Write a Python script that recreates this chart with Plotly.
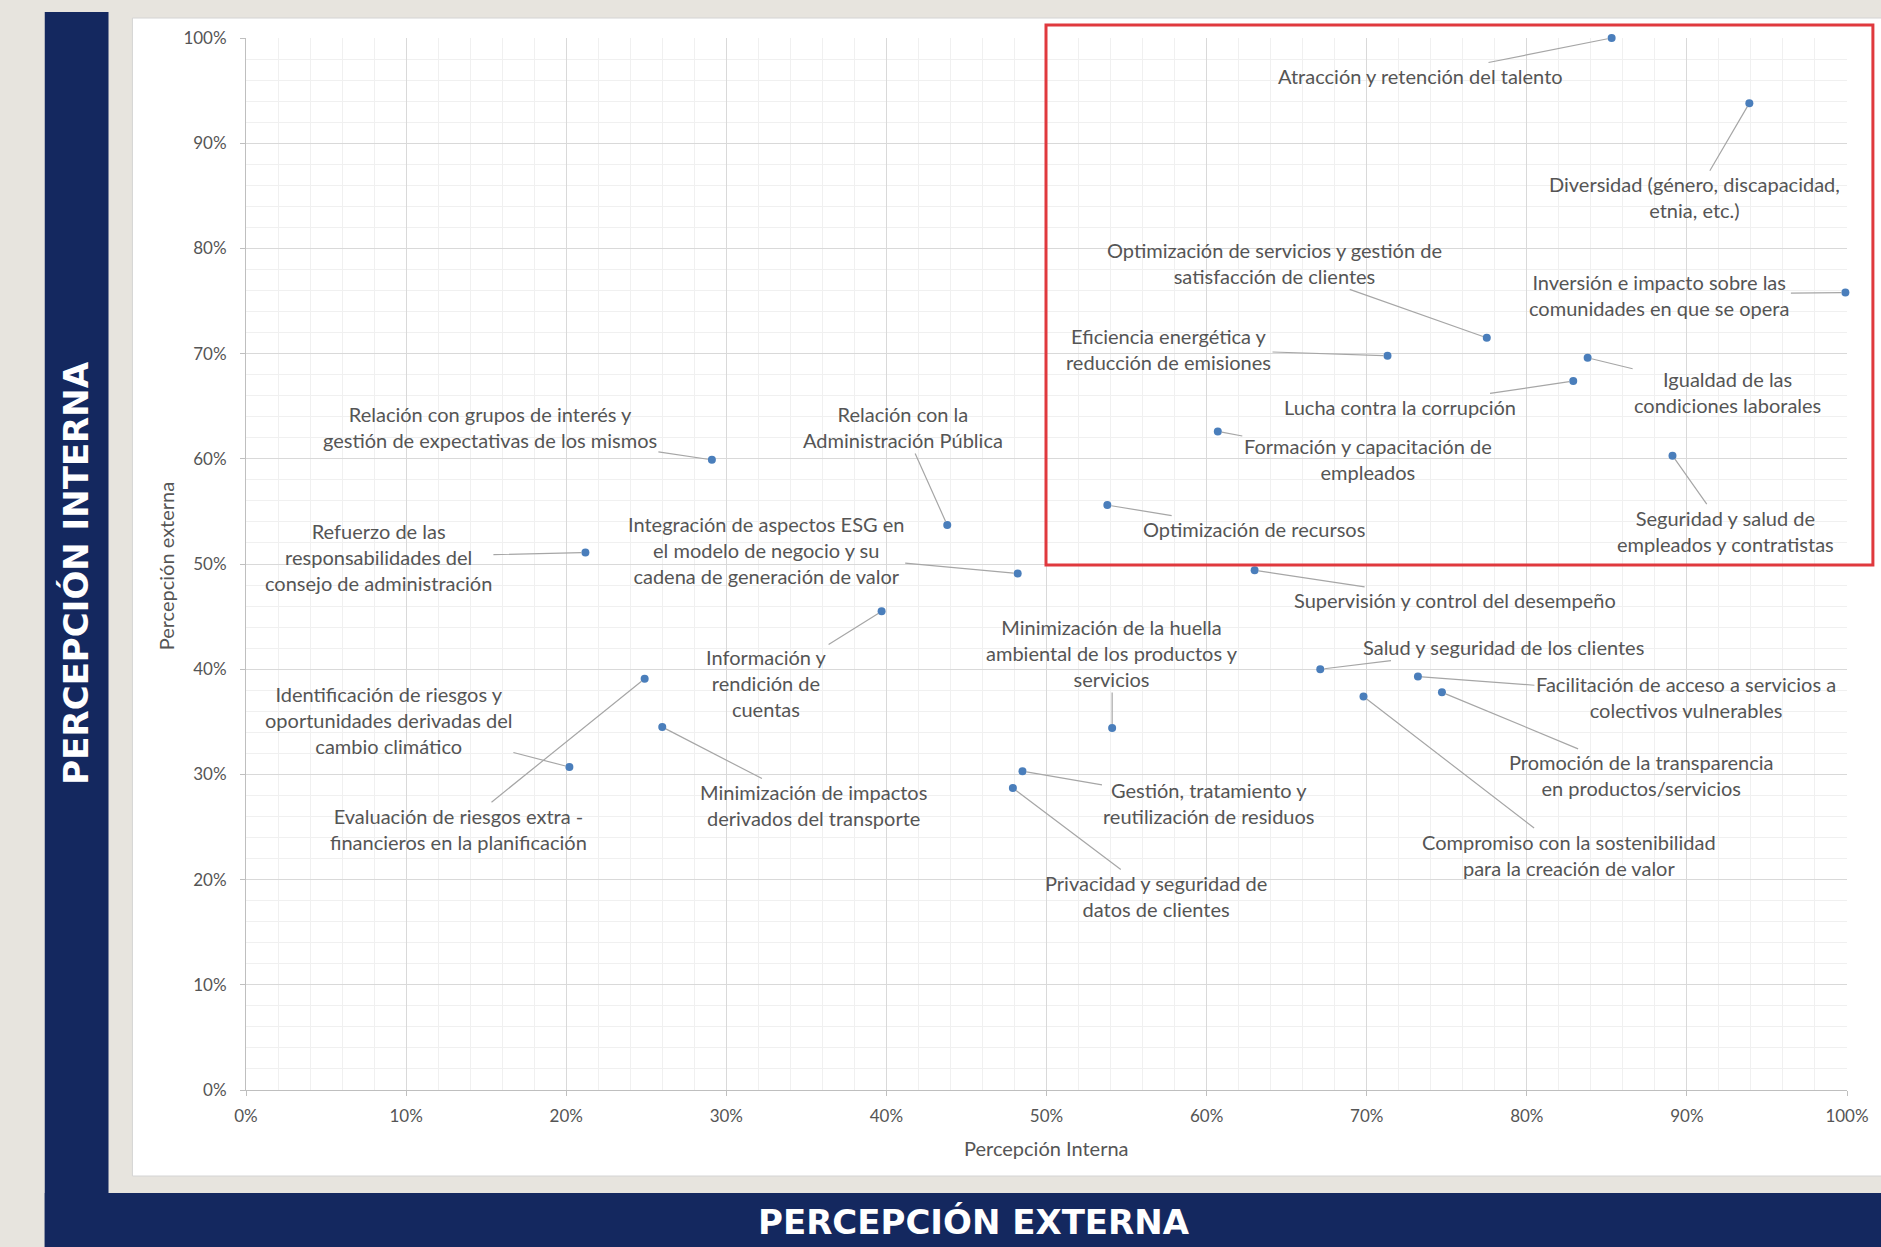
import plotly.graph_objects as go

# ---------------- data ----------------
topics = [
    "Atracción y retención del talento",
    "Diversidad (género, discapacidad,<br>etnia, etc.)",
    "Inversión e impacto sobre las<br>comunidades en que se opera",
    "Optimización de servicios y gestión de<br>satisfacción de clientes",
    "Eficiencia energética y<br>reducción de emisiones",
    "Igualdad de las<br>condiciones laborales",
    "Lucha contra la corrupción",
    "Formación y capacitación de<br>empleados",
    "Seguridad y salud de<br>empleados y contratistas",
    "Optimización de recursos",
    "Supervisión y control del desempeño",
    "Relación con grupos de interés y<br>gestión de expectativas de los mismos",
    "Relación con la<br>Administración Pública",
    "Refuerzo de las<br>responsabilidades del<br>consejo de administración",
    "Integración de aspectos ESG en<br>el modelo de negocio y su<br>cadena de generación de valor",
    "Información y<br>rendición de<br>cuentas",
    "Minimización de la huella<br>ambiental de los productos y<br>servicios",
    "Salud y seguridad de los clientes",
    "Facilitación de acceso a servicios a<br>colectivos vulnerables",
    "Promoción de la transparencia<br>en productos/servicios",
    "Compromiso con la sostenibilidad<br>para la creación de valor",
    "Identificación de riesgos y<br>oportunidades derivadas del<br>cambio climático",
    "Evaluación de riesgos extra -<br>financieros en la planificación",
    "Minimización de impactos<br>derivados del transporte",
    "Gestión, tratamiento y<br>reutilización de residuos",
    "Privacidad y seguridad de<br>datos de clientes",
]

percepcion_interna = [0.853, 0.939, 0.999, 0.775, 0.713, 0.838, 0.829, 0.607, 0.891, 0.538,
                      0.630, 0.291, 0.438, 0.212, 0.482, 0.397, 0.541, 0.671, 0.732, 0.747,
                      0.698, 0.202, 0.249, 0.260, 0.485, 0.479]

percepcion_externa = [1.000, 0.938, 0.758, 0.715, 0.698, 0.696, 0.674, 0.626, 0.603, 0.556,
                      0.494, 0.599, 0.537, 0.511, 0.491, 0.455, 0.344, 0.400, 0.393, 0.378,
                      0.374, 0.307, 0.391, 0.345, 0.303, 0.287]

tick_vals = [0, 0.1, 0.2, 0.3, 0.4, 0.5, 0.6, 0.7, 0.8, 0.9, 1.0]
tick_text = ["0%", "10%", "20%", "30%", "40%", "50%", "60%", "70%", "80%", "90%", "100%"]

# label placement (pixel offsets of label centre from its point) - layout only
label_dx = [-191, -55, -186, -212, -219, 140, -173, 150, 53, 147,
            200, -222, -44, -207, -252, -115, 0, 183, 268, 200,
            205, -181, -186, 151, 187, 143]
label_dy = [38, 94, 2, -75, -7, 34, 26, 28, 75, 24,
            30, -33, -98, 5, -23, 72, -75, -22, 20, 83,
            158, -47, 150, 78, 32, 108]

# ---------------- layout geometry ----------------
W, H = 1881, 1247
ML, MR, MT, MB = 246, 28, 38, 157
PW = W - ML - MR
PH = H - MT - MB


def px(x):
    return (x - ML) / PW


def py(y):
    return (H - MB - y) / PH


NAVY = "#14285F"
BEIGE = "#E7E4DE"
TXT = "#555555"
FONT = "Lato, 'Open Sans', sans-serif"
BANNER_FONT = "'DejaVu Sans', sans-serif"

fig = go.Figure()
fig.add_trace(go.Scatter(
    x=percepcion_interna, y=percepcion_externa, mode="markers",
    marker=dict(color="#4A7EBB", size=8),
    cliponaxis=False, hoverinfo="skip", showlegend=False,
))

annotations = []
for t, xv, yv, dx, dy in zip(topics, percepcion_interna, percepcion_externa, label_dx, label_dy):
    annotations.append(dict(
        x=xv, y=yv, xref="x", yref="y", text=t, showarrow=True,
        ax=dx, ay=dy, arrowhead=0, arrowwidth=1.2, arrowcolor="#A6A6A6",
        standoff=4, align="center",
        font=dict(family=FONT, size=20, color=TXT),
    ))

centered = dict(xref="paper", yref="paper", showarrow=False, xanchor="center", yanchor="middle")
# axis titles
annotations.append(dict(x=px(1050), y=py(1148), text="Percepción Interna",
                        font=dict(family=FONT, size=20, color=TXT), **centered))
annotations.append(dict(x=px(166), y=py(566), text="Percepción externa", textangle=-90,
                        font=dict(family=FONT, size=20, color=TXT), **centered))
# banner titles
annotations.append(dict(x=px(977), y=py(1222), text="<b>PERCEPCIÓN EXTERNA</b>",
                        font=dict(family=BANNER_FONT, size=34, color="white"), **centered))
annotations.append(dict(x=px(75), y=py(573), text="<b>PERCEPCIÓN INTERNA</b>", textangle=-90,
                        font=dict(family=BANNER_FONT, size=34, color="white"), **centered))

shapes = [
    # white chart frame
    dict(type="rect", xref="paper", yref="paper", x0=px(132), x1=px(1890), y0=py(1176), y1=py(18),
         fillcolor="white", line=dict(color="#D4D4D4", width=1), layer="below"),
    # navy bars
    dict(type="rect", xref="paper", yref="paper", x0=px(44), x1=px(108), y0=py(1250), y1=py(12),
         fillcolor=NAVY, line=dict(width=0), layer="below"),
    dict(type="rect", xref="paper", yref="paper", x0=px(44), x1=px(1890), y0=py(1250), y1=py(1193),
         fillcolor=NAVY, line=dict(width=0), layer="below"),
    # red highlight rectangle
    dict(type="rect", xref="paper", yref="paper", x0=px(1049), x1=px(1879), y0=py(565), y1=py(25),
         fillcolor="rgba(0,0,0,0)", line=dict(color="#E0393E", width=3), layer="above"),
]

axis_common = dict(
    range=[0, 1], tickvals=tick_vals, ticktext=tick_text,
    showgrid=True, gridcolor="#D9D9D9", gridwidth=1,
    minor=dict(dtick=0.02, showgrid=True, gridcolor="#F0F0F0", gridwidth=1),
    showline=True, linecolor="#BFBFBF", linewidth=1,
    ticks="outside", ticklen=5, tickcolor="#BFBFBF",
    tickfont=dict(family=FONT, size=17, color=TXT),
    zeroline=False, fixedrange=True,
)

fig.update_layout(
    width=W, height=H,
    margin=dict(l=ML, r=MR, t=MT, b=MB),
    paper_bgcolor=BEIGE, plot_bgcolor="white",
    xaxis=dict(**axis_common, ticklabelstandoff=6),
    yaxis=dict(**axis_common, ticklabelstandoff=10),
    annotations=annotations, shapes=shapes,
    showlegend=False,
)

fig.write_html(
    "out.html",
    config={"displayModeBar": False},
    post_script="document.body.style.margin='0';document.body.style.overflow='hidden';",
)
